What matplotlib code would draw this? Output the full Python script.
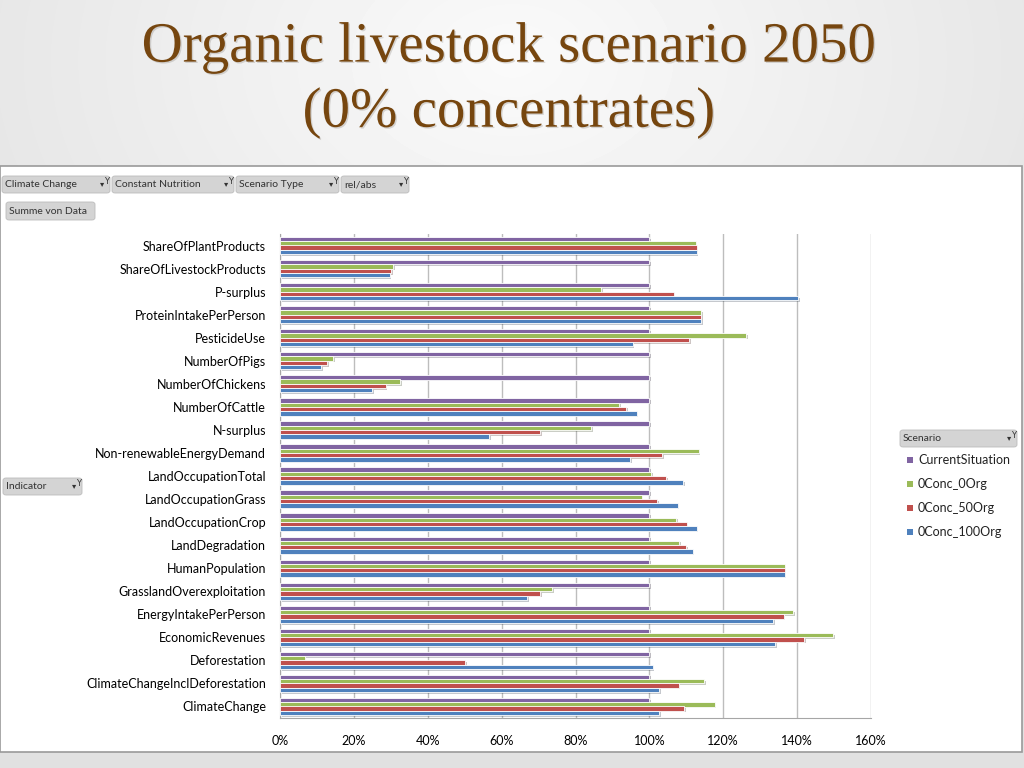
import numpy as np
import matplotlib
matplotlib.use("Agg")
import matplotlib.pyplot as plt
from matplotlib.patches import FancyBboxPatch, Rectangle
from matplotlib import patheffects as pe

# indicators, top to bottom as shown in the pivot chart
indicators = ["ShareOfPlantProducts", "ShareOfLivestockProducts", "P-surplus",
              "ProteinIntakePerPerson", "PesticideUse", "NumberOfPigs",
              "NumberOfChickens", "NumberOfCattle", "N-surplus",
              "Non-renewableEnergyDemand", "LandOccupationTotal",
              "LandOccupationGrass", "LandOccupationCrop", "LandDegradation",
              "HumanPopulation", "GrasslandOverexploitation",
              "EnergyIntakePerPerson", "EconomicRevenues", "Deforestation",
              "ClimateChangeInclDeforestation", "ClimateChange"]

# values in % relative to the current situation
current_situation = [100, 100, 100, 100, 100, 100, 100, 100, 100, 100, 100,
                     100, 100, 100, 100, 100, 100, 100, 100, 100, 100]
conc_0org = [112.5, 30.6, 86.9, 114.0, 126.2, 14.4, 32.6, 91.9, 84.2, 113.3, 100.5,
             97.9, 107.2, 108.1, 136.6, 73.7, 139.0, 149.7, 6.7, 114.8, 117.7]
conc_50org = [112.8, 30.1, 106.6, 114.0, 110.7, 12.7, 28.6, 93.8, 70.4, 103.4, 104.5,
              102.1, 110.1, 110.0, 136.6, 70.4, 136.4, 141.9, 50.2, 107.9, 109.4]
conc_100org = [112.8, 29.7, 140.3, 114.0, 95.5, 11.2, 25.0, 96.6, 56.7, 94.8, 109.2,
               107.7, 112.8, 111.7, 136.6, 67.0, 133.6, 134.0, 100.9, 102.7, 102.7]

series_names = ["CurrentSituation", "0Conc_0Org", "0Conc_50Org", "0Conc_100Org"]
colors = ["#8064A2", "#9BBB59", "#C0504D", "#4F81BD"]
xticks = [0, 20, 40, 60, 80, 100, 120, 140, 160]

fig = plt.figure(figsize=(10.24, 7.68), dpi=100)

# slide background: soft radial gradient
bg = fig.add_axes([0, 0, 1, 1], zorder=-10)
yy, xx = np.mgrid[0:768, 0:1024]
r = np.sqrt(((xx - 512) / 700.0) ** 2 + ((yy - 60) / 500.0) ** 2)
bg.imshow(0.98 - 0.10 * np.clip(r, 0, 1), cmap="gray", vmin=0, vmax=1,
          extent=[0, 1, 0, 1], aspect="auto")
bg.set_axis_off()

# white chart panel
fig.patches.append(Rectangle((0.0, 1 - 752 / 768), 1022 / 1024, (752 - 166) / 768,
                             transform=fig.transFigure, facecolor="white",
                             edgecolor="#9a9a9a", linewidth=1.2, zorder=-5))

title_fx = [pe.withSimplePatchShadow(offset=(1, -1), alpha=0.15)]
fig.text(0.497, 0.938, "Organic livestock scenario 2050", ha="center", va="center",
         fontsize=41, family="Liberation Serif", color="#76460F", path_effects=title_fx)
fig.text(0.497, 0.853, "(0% concentrates)", ha="center", va="center",
         fontsize=41, family="Liberation Serif", color="#76460F", path_effects=title_fx)

ax = fig.add_axes([280 / 1024, 1 - 718 / 768, (871 - 280) / 1024, (718 - 234) / 768])
y = np.arange(len(indicators))
offsets = [-0.28, -0.093, 0.093, 0.28]
data = [current_situation, conc_0org, conc_50org, conc_100org]
for vals, off, col, name in zip(data, offsets, colors, series_names):
    bars = ax.barh(y + off, vals, height=0.19, color=col, edgecolor="white",
                   linewidth=0.6, label=name, zorder=3)
    for b in bars:
        b.set_path_effects([pe.SimplePatchShadow(offset=(1.2, -1.2), alpha=0.25),
                            pe.Normal()])

ax.set_ylim(len(indicators) - 0.5, -0.5)
ax.set_xlim(0, 160)
ax.set_xticks(xticks)
ax.set_xticklabels([f"{t}%" for t in xticks], family="Lato", fontsize=9)
ax.set_yticks(y)
ax.set_yticklabels(indicators, family="Lato", fontsize=9)
ax.tick_params(axis="x", length=0, pad=12)
ax.tick_params(axis="y", length=0, pad=10)
ax.grid(axis="x", color="#bdbdbd", linewidth=1, zorder=0)
ax.set_axisbelow(True)
for s in ["top", "right"]:
    ax.spines[s].set_visible(False)
for s in ["left", "bottom"]:
    ax.spines[s].set_color("#a6a6a6")


def button(x0, y0, x1, y1, label, arrow=True):
    # pivot field button, given in pixel coordinates
    fig.patches.append(FancyBboxPatch((x0 / 1024, 1 - y1 / 768), (x1 - x0) / 1024,
                                      (y1 - y0) / 768, boxstyle="round,pad=0,rounding_size=0.003",
                                      transform=fig.transFigure, facecolor="#d4d4d4",
                                      edgecolor="#bcbcbc", linewidth=0.6))
    fig.text((x0 + 3) / 1024, 1 - (y0 + y1) / 2 / 768, label, ha="left", va="center",
             family="Lato", fontsize=7.5, color="#333333")
    if arrow:
        fig.text((x1 - 8) / 1024, 1 - ((y0 + y1) / 2 - 1) / 768, "\u25BE", ha="center",
                 va="center", fontsize=6, color="#333333")
        fig.text((x1 - 3) / 1024, 1 - ((y0 + y1) / 2 - 3) / 768, "Y", ha="center",
                 va="center", fontsize=6, color="#333333")


button(2, 176, 110, 193, "Climate Change")
button(112, 176, 234, 193, "Constant Nutrition")
button(236, 176, 339, 193, "Scenario Type")
button(341, 176, 409, 193, "rel/abs")
button(6, 202, 95, 220, "Summe von Data", arrow=False)
button(3, 478, 82, 495, "Indicator")
button(900, 430, 1017, 447, "Scenario")

# legend entries
for i, (name, col) in enumerate(zip(series_names, colors)):
    yc = 460 + 24 * i
    fig.patches.append(Rectangle((907 / 1024, 1 - (yc + 3) / 768), 6 / 1024, 6 / 768,
                                 transform=fig.transFigure, facecolor=col,
                                 edgecolor="none"))
    fig.text(918 / 1024, 1 - yc / 768, name, ha="left", va="center", family="Lato",
             fontsize=9, color="#222222")

fig.savefig("out.png", dpi=100)
